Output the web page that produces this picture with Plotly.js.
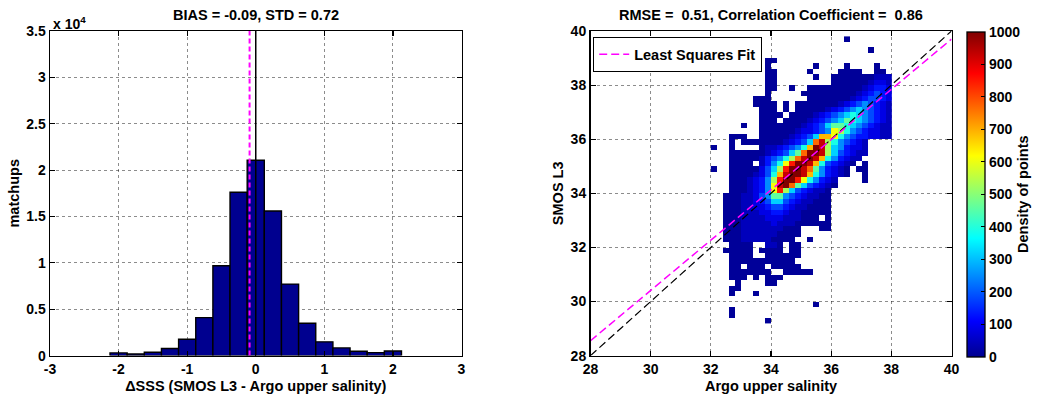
<!DOCTYPE html>
<html>
<head>
<meta charset="utf-8">
<script src="https://cdn.plot.ly/plotly-3.0.1.min.js"></script>
<style>
  html, body { margin: 0; padding: 0; background: #fff; }
  #chart { width: 1041px; height: 401px; }
</style>
</head>
<body>
<div id="chart"></div>
<script>
// ---------------- Left panel: histogram of SSS differences ----------------
const histCenters = [-2, -1.75, -1.5, -1.25, -1, -0.75, -0.5, -0.25, 0, 0.25, 0.5, 0.75, 1, 1.25, 1.5, 1.75, 2];
const histCounts  = [290, 180, 360, 760, 1760, 4100, 9690, 17610, 21070, 15590, 7710, 3490, 1480, 830, 470, 320, 500];
const histBinWidth = 0.25;
const biasValue = -0.09;
const histXTickVals = [-3, -2, -1, 0, 1, 2, 3];
const histXTickText = ['-3', '-2', '-1', '0', '1', '2', '3'];
const histYTickVals = [0, 5000, 10000, 15000, 20000, 25000, 30000, 35000];
const histYTickText = ['0', '0.5', '1', '1.5', '2', '2.5', '3', '3.5'];
const histYMax = 35000;

// ---------------- Right panel: 2D density of SMOS vs Argo ----------------
const scatterTicks = [28, 30, 32, 34, 36, 38, 40];
const oneToOneX = [28, 40];
const oneToOneY = [28, 40];
const fitX = [28, 40];
const fitY = [28.55, 39.7];
// grid of 0.2 PSU bins: first column centre 32.1, bottom row centre 29.3
const gridX0 = 32.1;
const gridY0 = 29.3;
const gridStep = 0.2;
// density level codes used in the rows below ('.' = no data)
const levelCodes  = ['0', '1', '2', '3', '4', '5', '6', '7', '8', '9', 'a', 'b', 'c', 'd', 'e', 'f'];
const levelValues = [10, 45, 85, 130, 185, 250, 320, 390, 460, 530, 610, 690, 770, 850, 930, 1000];
// rows from top (SMOS 39.6-39.8) to bottom (SMOS 29.2-29.4); columns Argo 32.0 ... 37.8
const densityRows = [
  "..... ..... ..... ..... ..0.. .....", // 39.6
  "..... ..... ..... ..... ..... .....", // 39.4
  "..... ..... ..... ..... ..... .0...", // 39.2
  "..... ..... ..... ..... ..... .....", // 39.0
  "..... ....0 0.... ..... ..... .....", // 38.8
  "..... ....0 ..... ..0.. ..0.. ..0..", // 38.6
  "..... ....0 0.... .0... .0000 ..00.", // 38.4
  "..... ....0 0.... ..0.. 00000 00111", // 38.2
  "..... ....0 0.... ..... 00000 01221", // 38.0
  "..... ....0 0..0. .0000 00000 12332", // 37.8
  "..... ....0 ..... 00000 00001 23432", // 37.6
  "..... ..000 ..... .0000 00012 34432", // 37.4
  "..... ..000 0.0.0 00000 01234 54321", // 37.2
  "..... ...00 0.0.0 00001 23456 54321", // 37.0
  "..... ...00 00.00 00123 45676 54321", // 36.8
  "..... ...00 0.000 01234 56876 54321", // 36.6
  "..... 0..00 00000 12346 88765 43211", // 36.4
  "..... ...00 00001 22345 a9754 32211", // 36.2
  "...00 0..00 00012 346bb a7543 32211", // 36.0
  "...0. 00000 00123 46ce9 75432 1....", // 35.8
  "0..0. ...01 12345 7bfe9 65322 1....", // 35.6
  "...00 00001 23468 cffe9 64321 1....", // 35.4
  "...00 00013 4579c efeb7 53211 .....", // 35.2
  "...00 00.13 57adf feb74 3210. 0....", // 35.0
  "0..00 00024 69dff ec853 210.0 0....", // 34.8
  "...00 00124 7beff eb753 210.. 0....", // 34.6
  "...00 01235 9dffd a7532 1.... 0....", // 34.4
  "...00 01235 aefc8 64321 0.... .....", // 34.2
  "...00 01235 ad964 32110 ..... .....", // 34.0
  "..000 11245 88543 21100 ..... .....", // 33.8
  "..000 11234 66432 11000 ..... .....", // 33.6
  "..000 11223 44321 10000 ..... .....", // 33.4
  "..000 11122 33211 00000 ..... .....", // 33.2
  "..000 11112 22111 000.0 ..... .....", // 33.0
  "..000 11111 21110 00000 ..... .....", // 32.8
  "..000 11111 11000 ...00 ..... .....", // 32.6
  "..000 11111 10000 ..... ..... .....", // 32.4
  "..000 11111 0000. .0... ..... .....", // 32.2
  "...00 00..1 10.00 ..... ..... .....", // 32.0
  "..000 00.00 00.00 ..... ..... .....", // 31.8
  "...00 00..0 00000 ..... ..... .....", // 31.6
  "...00 00000 0000. ..... ..... .....", // 31.4
  "...00 .000. 00000 ..... ..... .....", // 31.2
  "...00 00000 ..000 00... ..... .....", // 31.0
  "...00 0.0.0 00... ..... ..... .....", // 30.8
  "....0 ....0 0.... ..... ..... .....", // 30.6
  "...00 ..... ..... ..... ..... .....", // 30.4
  "...0. ..0.. ..... ..... ..... .....", // 30.2
  "..... ..... ..... ..... ..... .....", // 30.0
  "..... ..... ..... ..0.. ..... .....", // 29.8
  "...0. ..... ..... ..... ..... .....", // 29.6
  "...0. ..... ..... ..... ..... .....", // 29.4
  "..... ....0 ..... ..... ..... ....."  // 29.2
];
const colorbarTicks = [0, 100, 200, 300, 400, 500, 600, 700, 800, 900, 1000];

// decode the density rows into a z matrix (bottom row first)
const densityZ = densityRows.slice().reverse().map(function (row) {
  return row.replace(/ /g, '').split('').map(function (ch) {
    const k = levelCodes.indexOf(ch);
    return k < 0 ? null : levelValues[k];
  });
});

const jet = [
  [0, 'rgb(0,0,143)'],
  [0.111, 'rgb(0,0,255)'],
  [0.365, 'rgb(0,255,255)'],
  [0.619, 'rgb(255,255,0)'],
  [0.873, 'rgb(255,0,0)'],
  [1, 'rgb(128,0,0)']
];

const W = 1041, H = 401;
const FONT = '"Liberation Sans", Arial, Helvetica, sans-serif';
const TICK = 14, TTL = 14.5;
const yDom = [1 - 355.6 / H, 1 - 31 / H];
function f(size) { return { family: FONT, size: size, color: '#000', weight: 'bold' }; }

const traces = [
  {
    type: 'bar', x: histCenters, y: histCounts, width: histBinWidth,
    marker: { color: 'rgb(0,0,143)', line: { color: '#000', width: 1.4 } },
    xaxis: 'x', yaxis: 'y', showlegend: false, hoverinfo: 'skip'
  },
  {
    type: 'scatter', mode: 'lines', x: [0, 0], y: [0, histYMax],
    line: { color: '#000', width: 1.5 }, xaxis: 'x', yaxis: 'y', showlegend: false
  },
  {
    type: 'scatter', mode: 'lines', x: [biasValue, biasValue], y: [0, histYMax],
    line: { color: '#ff00ff', width: 2, dash: '5px,3px' }, xaxis: 'x', yaxis: 'y', showlegend: false
  },
  {
    type: 'heatmap', z: densityZ, x0: gridX0, dx: gridStep, y0: gridY0, dy: gridStep,
    zmin: 0, zmax: 1000, colorscale: jet, zsmooth: false, hoverinfo: 'skip',
    xaxis: 'x2', yaxis: 'y2', showlegend: false,
    colorbar: {
      x: 966.5 / W, xanchor: 'left', xpad: 0,
      y: 1 - 356.7 / H, yanchor: 'bottom', ypad: 0,
      len: 325 / H, lenmode: 'fraction',
      thickness: 18, thicknessmode: 'pixels',
      outlinecolor: '#000', outlinewidth: 1.3,
      tickmode: 'array', tickvals: colorbarTicks,
      ticks: 'inside', ticklen: 4, tickcolor: '#000', tickwidth: 1,
      tickfont: f(TICK),
      title: { text: 'Density of points', side: 'right', font: f(TTL) }
    }
  },
  {
    type: 'scatter', mode: 'lines', x: oneToOneX, y: oneToOneY,
    line: { color: '#000', width: 1.2, dash: '8px,4px' }, xaxis: 'x2', yaxis: 'y2', showlegend: false
  },
  {
    type: 'scatter', mode: 'lines', x: fitX, y: fitY, name: 'Least Squares Fit',
    line: { color: '#ff00ff', width: 1.5, dash: '8px,4px' }, xaxis: 'x2', yaxis: 'y2', showlegend: true
  }
];

function axisBase() {
  return {
    showline: true, linecolor: '#000', linewidth: 1.5, mirror: 'ticks',
    ticks: 'inside', ticklen: 5, tickwidth: 1.2, tickcolor: '#000',
    showgrid: true, gridcolor: 'rgba(0,0,0,0.45)', griddash: 'dot', gridwidth: 1,
    zeroline: false, fixedrange: true,
    tickfont: f(TICK)
  };
}

const xaxis = Object.assign(axisBase(), {
  domain: [50 / W, 461.5 / W], anchor: 'y', range: [-3, 3],
  tickmode: 'array', tickvals: histXTickVals, ticktext: histXTickText,
  title: { text: '\u0394SSS (SMOS L3 - Argo upper salinity)', standoff: 5, font: f(TTL) }
});
const yaxis = Object.assign(axisBase(), {
  domain: yDom, anchor: 'x', range: [0, histYMax],
  tickmode: 'array', tickvals: histYTickVals, ticktext: histYTickText,
  title: { text: 'matchups', standoff: 3, font: f(TTL) }
});
const xaxis2 = Object.assign(axisBase(), {
  domain: [590.5 / W, 951.5 / W], anchor: 'y2', range: [28, 40],
  tickmode: 'array', tickvals: scatterTicks,
  title: { text: 'Argo upper salinity', standoff: 5, font: f(TTL) }
});
const yaxis2 = Object.assign(axisBase(), {
  domain: yDom, anchor: 'x2', range: [28, 40],
  tickmode: 'array', tickvals: scatterTicks,
  title: { text: 'SMOS L3', standoff: 3, font: f(TTL) }
});

const layout = {
  width: W, height: H,
  margin: { l: 0, r: 0, t: 0, b: 0, pad: 0 },
  paper_bgcolor: '#fff', plot_bgcolor: '#fff',
  font: f(TICK),
  showlegend: true,
  legend: {
    x: 593 / W, y: 1 - 37 / H, xanchor: 'left', yanchor: 'top',
    bgcolor: '#fff', bordercolor: '#000', borderwidth: 1.2,
    font: f(TTL), itemwidth: 30, tracegroupgap: 0
  },
  xaxis: xaxis, yaxis: yaxis, xaxis2: xaxis2, yaxis2: yaxis2,
  annotations: [
    { text: 'BIAS = -0.09, STD = 0.72', xref: 'paper', yref: 'paper',
      x: 256 / W, y: 1 - 14.5 / H, xanchor: 'center', yanchor: 'middle', showarrow: false,
      font: f(TTL) },
    { text: 'RMSE =  0.51, Correlation Coefficient =  0.86', xref: 'paper', yref: 'paper',
      x: 771 / W, y: 1 - 14.5 / H, xanchor: 'center', yanchor: 'middle', showarrow: false,
      font: f(TTL) },
    { text: 'x 10<sup>4</sup>', xref: 'paper', yref: 'paper',
      x: 51 / W, y: 1 - 23 / H, xanchor: 'left', yanchor: 'middle', showarrow: false,
      font: f(TICK) }
  ]
};

Plotly.newPlot('chart', traces, layout, { staticPlot: true, displayModeBar: false });
</script>
</body>
</html>
